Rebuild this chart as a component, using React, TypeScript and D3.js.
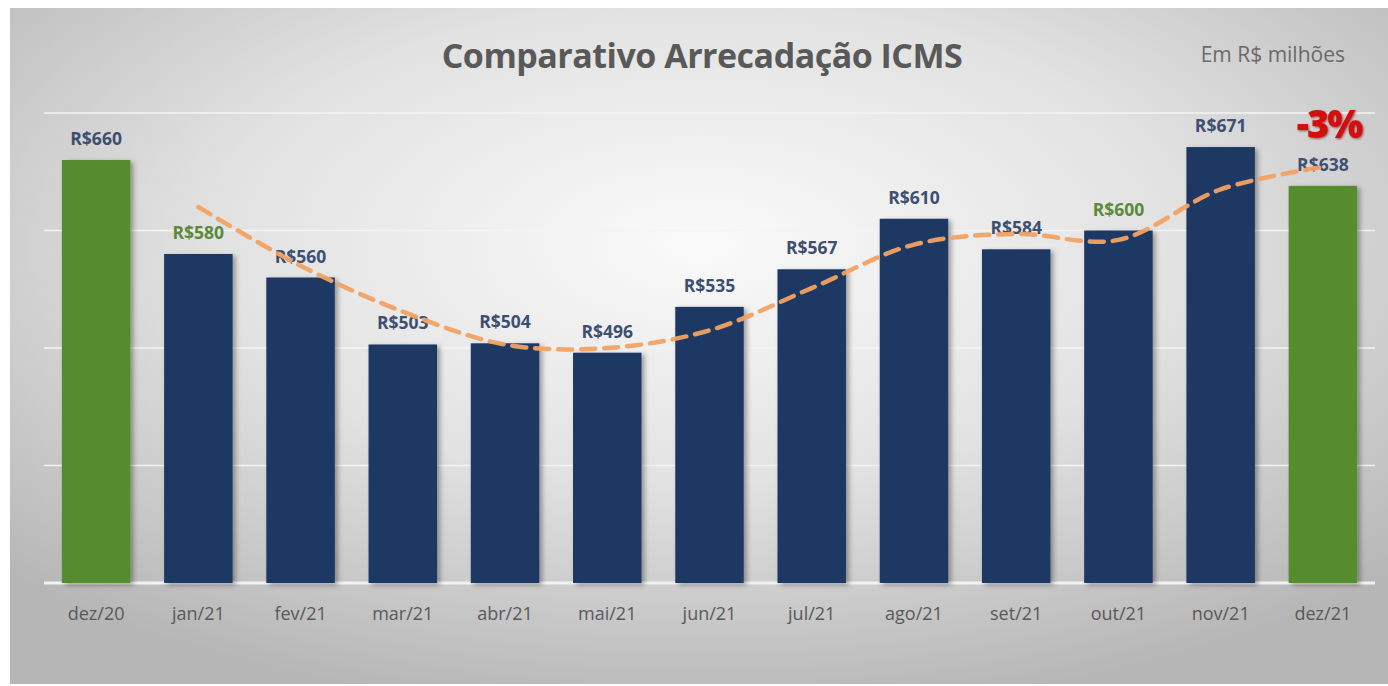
import { useEffect, useRef } from "react";
import * as d3 from "d3";

const months = ["dez/20", "jan/21", "fev/21", "mar/21", "abr/21", "mai/21", "jun/21", "jul/21", "ago/21", "set/21", "out/21", "nov/21", "dez/21"];
const revenue = [660, 580, 560, 503, 504, 496, 535, 567, 610, 584, 600, 671, 638];
// trend line (dashed orange), starts at jan/21
const trendMonths = months.slice(1);
const trendValues = [620, 570, 531, 503, 500, 515, 551, 588, 597, 592, 635, 654];
const yTicks = [300, 400, 500, 600, 700];
const greenBars = ["dez/20", "dez/21"];
const greenLabels = ["jan/21", "out/21"];

export default function App() {
  const ref = useRef<SVGSVGElement>(null);

  useEffect(() => {
    const svg = d3.select(ref.current);
    svg.selectAll("*").remove();

    const width = 1388;
    const height = 686;
    const font = "'Open Sans', 'Noto Sans', sans-serif";

    const defs = svg.append("defs");
    const grad = defs
      .append("radialGradient")
      .attr("id", "bg")
      .attr("cx", "50%")
      .attr("cy", "35%")
      .attr("r", "70%");
    grad.append("stop").attr("offset", "0%").attr("stop-color", "#fafafa");
    grad.append("stop").attr("offset", "50%").attr("stop-color", "#e2e2e2");
    grad.append("stop").attr("offset", "100%").attr("stop-color", "#b6b6b6");

    const shadow = defs.append("filter").attr("id", "shadow").attr("x", "-20%").attr("y", "-20%").attr("width", "150%").attr("height", "150%");
    shadow.append("feDropShadow").attr("dx", 3).attr("dy", 2).attr("stdDeviation", 2.5).attr("flood-color", "#000").attr("flood-opacity", 0.35);

    const redShadow = defs.append("filter").attr("id", "redshadow");
    redShadow.append("feDropShadow").attr("dx", 1).attr("dy", 1).attr("stdDeviation", 1.2).attr("flood-color", "#600").attr("flood-opacity", 0.6);

    svg.append("rect").attr("width", width).attr("height", height).attr("fill", "#fff");
    svg.append("rect").attr("x", 10).attr("y", 8).attr("width", width - 10).attr("height", 676).attr("fill", "url(#bg)");

    const x = d3.scaleBand().domain(months).range([45, 1374]).paddingInner(0.33).paddingOuter(0.165);
    const y = d3.scaleLinear().domain([300, 700]).range([583, 113]);

    // gridlines
    svg
      .append("g")
      .selectAll("line")
      .data(yTicks)
      .join("line")
      .attr("x1", 44)
      .attr("x2", 1375)
      .attr("y1", (d) => y(d))
      .attr("y2", (d) => y(d))
      .attr("stroke", (d) => (d === 300 ? "#f2f2f2" : "#f4f4f4"))
      .attr("stroke-width", (d) => (d === 300 ? 3 : 1.5));

    // bars
    svg
      .append("g")
      .selectAll("rect")
      .data(revenue)
      .join("rect")
      .attr("x", (d, i) => x(months[i])!)
      .attr("y", (d) => y(d))
      .attr("width", x.bandwidth())
      .attr("height", (d) => y(300) - y(d))
      .attr("fill", (d, i) => (greenBars.includes(months[i]) ? "#548c2f" : "#1f3864"))
      .attr("filter", "url(#shadow)");

    // value labels
    svg
      .append("g")
      .selectAll("text")
      .data(revenue)
      .join("text")
      .attr("x", (d, i) => x(months[i])! + x.bandwidth() / 2)
      .attr("y", (d) => y(d) - 15)
      .attr("text-anchor", "middle")
      .attr("font-family", font)
      .attr("font-size", 17.5)
      .attr("font-weight", 700)
      .attr("fill", (d, i) => (greenLabels.includes(months[i]) ? "#5b8a3a" : "#3e4f72"))
      .text((d) => "R$" + d);

    // trend line
    const line = d3
      .line<number>()
      .x((d, i) => x(trendMonths[i])! + x.bandwidth() / 2)
      .y((d) => y(d))
      .curve(d3.curveCatmullRom.alpha(0.5));
    svg
      .append("path")
      .datum(trendValues)
      .attr("d", line)
      .attr("fill", "none")
      .attr("stroke", "#f2a262")
      .attr("stroke-width", 4.5)
      .attr("stroke-dasharray", "14 9")
      .attr("stroke-linecap", "round")
      .attr("opacity", 0.95);

    // x axis labels
    svg
      .append("g")
      .selectAll("text")
      .data(months)
      .join("text")
      .attr("x", (d) => x(d)! + x.bandwidth() / 2)
      .attr("y", 620)
      .attr("text-anchor", "middle")
      .attr("font-family", font)
      .attr("font-size", 18)
      .attr("fill", "#595959")
      .text((d) => d);

    // title + unit
    svg
      .append("text")
      .attr("x", 702)
      .attr("y", 68)
      .attr("text-anchor", "middle")
      .attr("font-family", font)
      .attr("font-size", 34)
      .attr("font-weight", 700)
      .attr("letter-spacing", -0.5)
      .attr("fill", "#595959")
      .text("Comparativo Arrecadação ICMS");

    svg
      .append("text")
      .attr("x", 1345)
      .attr("y", 62)
      .attr("text-anchor", "end")
      .attr("font-family", font)
      .attr("font-size", 21)
      .attr("fill", "#6a6a6a")
      .text("Em R$ milhões");

    svg
      .append("text")
      .attr("x", 1329)
      .attr("y", 138)
      .attr("text-anchor", "middle")
      .attr("font-family", font)
      .attr("font-size", 38)
      .attr("font-weight", 800)
      .attr("letter-spacing", -2)
      .attr("fill", "#d41010")
      .attr("filter", "url(#redshadow)")
      .text("-3%");
  }, []);

  return (
    <svg
      ref={ref}
      width={1388}
      height={686}
      style={{ position: "absolute", left: 0, top: 0, display: "block" }}
    />
  );
}
